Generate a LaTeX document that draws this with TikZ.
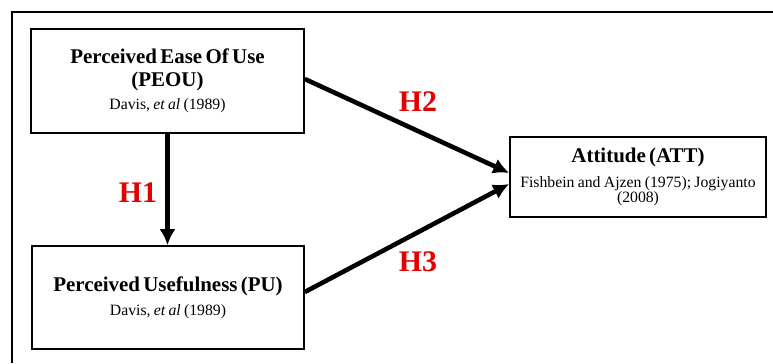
\documentclass[tikz,border=0pt]{standalone}
\usepackage{fontspec}
\setmainfont{Liberation Serif}
\usetikzlibrary{arrows.meta}
\definecolor{hred}{RGB}{228,0,0}
\newcommand{\hdfont}{\fontsize{21}{23}\selectfont\bfseries}
\newcommand{\smfont}{\fontsize{15.8}{16}\selectfont\mdseries}

\begin{document}
\begin{tikzpicture}[x=1bp, y=-1bp,
  box/.style={draw, line width=1.6bp, align=center, inner sep=0pt},
  hyp/.style={-{Latex[length=16bp,width=16bp]}, line width=4.6bp},
  hlabel/.style={text=hred, font=\fontsize{30}{32}\selectfont\bfseries}]
\useasboundingbox (0,0) rectangle (773,363);
\draw[line width=1.6bp] (12,363) -- (12,12) -- (773,12);
% the three constructs
\node[box, minimum width=273bp, minimum height=104bp, text width=264bp] (peou) at (167.5,81)
  {\hdfont Perceived Ease Of Use\\(PEOU)\\[7bp]\smfont Davis, \textit{et al} (1989)};
\node[box, minimum width=272bp, minimum height=103bp, text width=264bp] (pu) at (168,297.5)
  {\hdfont Perceived Usefulness (PU)\\[8bp]\smfont Davis, \textit{et al} (1989)};
\node[box, minimum width=256bp, minimum height=80bp, text width=254bp] (att) at (638,177)
  {\hdfont Attitude (ATT)\\[9bp]\smfont Fishbein and Ajzen (1975); Jogiyanto\\[-1bp](2008)};
% hypotheses
\draw[hyp] (peou.south) -- (peou.south |- pu.north);
\draw[hyp] ([yshift=2bp]peou.east) -- ([yshift=4bp]att.west);
\draw[hyp] ([yshift=5.5bp]pu.east) -- ([yshift=-7bp]att.west);
\node[hlabel] (h1) at (138,193) {H1};
\node[hlabel] (h2) at (418,102) {H2};
\node[hlabel] (h3) at (418,262) {H3};
\end{tikzpicture}
\end{document}
